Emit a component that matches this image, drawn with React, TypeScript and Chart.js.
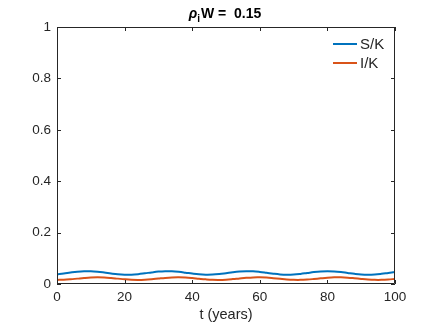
import React, { useEffect, useRef } from "react";
import { Chart, registerables } from "chart.js";

Chart.register(...registerables);

// ---- Data ----
const T = [
  0, 2, 4, 6, 8, 10, 12, 14, 16, 18, 20, 22, 24, 26, 28, 30, 32, 34, 36, 38, 40,
  42, 44, 46, 48, 50, 52, 54, 56, 58, 60, 62, 64, 66, 68, 70, 72, 74, 76, 78, 80,
  82, 84, 86, 88, 90, 92, 94, 96, 98, 100,
];
const S_K = [
  0.0379, 0.041, 0.0447, 0.0479, 0.0498, 0.0498, 0.0479, 0.0447, 0.041, 0.0379,
  0.0362, 0.0363, 0.0383, 0.0416, 0.0452, 0.0483, 0.0499, 0.0496, 0.0475, 0.0442,
  0.0405, 0.0375, 0.0361, 0.0365, 0.0387, 0.0421, 0.0458, 0.0486, 0.05, 0.0494,
  0.047, 0.0436, 0.04, 0.0372, 0.036, 0.0367, 0.0392, 0.0427, 0.0463, 0.0489,
  0.05, 0.0491, 0.0466, 0.043, 0.0395, 0.0369, 0.036, 0.037, 0.0397, 0.0432,
  0.0467,
];
const I_K = [
  0.016, 0.0166, 0.0184, 0.0209, 0.0234, 0.0253, 0.026, 0.0253, 0.0234, 0.0209,
  0.0184, 0.0166, 0.016, 0.0168, 0.0187, 0.0213, 0.0238, 0.0255, 0.026, 0.0251,
  0.0231, 0.0205, 0.0181, 0.0164, 0.016, 0.017, 0.0191, 0.0217, 0.0241, 0.0257,
  0.0259, 0.0249, 0.0227, 0.0201, 0.0177, 0.0163, 0.0161, 0.0173, 0.0195, 0.0221,
  0.0244, 0.0258, 0.0259, 0.0246, 0.0223, 0.0197, 0.0175, 0.0162, 0.0162, 0.0175,
  0.0199,
];
const SERIES_LABELS = ["S/K", "I/K"];
const SERIES_COLORS = ["#0072BD", "#D95319"];
const X_TICKS = [0, 20, 40, 60, 80, 100];
const Y_TICKS = [0, 0.2, 0.4, 0.6, 0.8, 1];
const TITLE_SYMBOL = "ρ";
const TITLE_SUB = "i";
const TITLE_REST = "W =  0.15";
const X_TITLE = "t (years)";

const FONT = "'Liberation Sans', Arial, Helvetica, sans-serif";
const AXIS_COLOR = "#262626";

const decorPlugin = {
  id: "matlabDecor",
  afterDraw(chart: any) {
    const { ctx, chartArea, scales } = chart;
    const { left, right, top, bottom } = chartArea;
    const xs = scales.x;
    const ys = scales.y;
    ctx.save();
    // box
    ctx.strokeStyle = AXIS_COLOR;
    ctx.lineWidth = 1;
    ctx.beginPath();
    ctx.rect(left + 0.5, top + 0.5, right - left - 1, bottom - top - 1);
    ctx.stroke();
    // inward ticks on all four sides
    const tl = 4;
    ctx.beginPath();
    X_TICKS.forEach((v) => {
      const px = Math.round(xs.getPixelForValue(v)) + 0.5;
      ctx.moveTo(px, bottom);
      ctx.lineTo(px, bottom - tl);
      ctx.moveTo(px, top);
      ctx.lineTo(px, top + tl);
    });
    Y_TICKS.forEach((v) => {
      const py = Math.round(ys.getPixelForValue(v)) + 0.5;
      ctx.moveTo(left, py);
      ctx.lineTo(left + tl, py);
      ctx.moveTo(right, py);
      ctx.lineTo(right - tl, py);
    });
    ctx.stroke();

    // title
    ctx.fillStyle = "#000";
    ctx.textBaseline = "alphabetic";
    ctx.textAlign = "left";
    const fSym = `italic bold 14px ${FONT}`;
    const fSub = `bold 10px ${FONT}`;
    const fRest = `bold 14px ${FONT}`;
    ctx.font = fSym;
    const wSym = ctx.measureText(TITLE_SYMBOL).width;
    ctx.font = fSub;
    const wSub = ctx.measureText(TITLE_SUB).width;
    ctx.font = fRest;
    const wRest = ctx.measureText(TITLE_REST).width;
    const total = wSym + wSub + wRest + 1;
    let tx = (left + right) / 2 - total / 2 - 1;
    const base = 18;
    ctx.font = fSym;
    ctx.fillText(TITLE_SYMBOL, tx, base);
    tx += wSym;
    ctx.font = fSub;
    ctx.fillText(TITLE_SUB, tx, base + 4);
    tx += wSub + 1;
    ctx.font = fRest;
    ctx.fillText(TITLE_REST, tx, base);

    // legend
    ctx.font = `15px ${FONT}`;
    ctx.textBaseline = "middle";
    ctx.fillStyle = AXIS_COLOR;
    chart.data.datasets.forEach((ds: any, i: number) => {
      const y = top + 17 + i * 19;
      ctx.strokeStyle = ds.borderColor;
      ctx.lineWidth = 2;
      ctx.beginPath();
      ctx.moveTo(right - 62, y);
      ctx.lineTo(right - 38, y);
      ctx.stroke();
      ctx.fillText(ds.label, right - 35, y + 0.5);
    });
    ctx.restore();
  },
};

export default function App() {
  const ref = useRef<HTMLCanvasElement>(null);
  useEffect(() => {
    if (!ref.current) return;
    const chart = new Chart(ref.current, {
      type: "line",
      data: {
        datasets: [
          {
            label: SERIES_LABELS[0],
            data: T.map((t, i) => ({ x: t, y: S_K[i] })),
            borderColor: SERIES_COLORS[0],
            borderWidth: 2,
            pointRadius: 0,
            tension: 0.4,
            fill: false,
          },
          {
            label: SERIES_LABELS[1],
            data: T.map((t, i) => ({ x: t, y: I_K[i] })),
            borderColor: SERIES_COLORS[1],
            borderWidth: 2,
            pointRadius: 0,
            tension: 0.4,
            fill: false,
          },
        ],
      },
      options: {
        animation: false,
        responsive: false,
        maintainAspectRatio: false,
        layout: { padding: { left: 0, right: 41, top: 27, bottom: 0 } },
        plugins: {
          legend: { display: false },
          title: { display: false },
          tooltip: { enabled: false },
        },
        scales: {
          x: {
            type: "linear",
            min: 0,
            max: 100,
            afterBuildTicks: (s: any) => {
              s.ticks = X_TICKS.map((v) => ({ value: v }));
            },
            afterFit: (s: any) => {
              s.height = 43;
            },
            grid: { display: false, drawTicks: false },
            border: { display: false },
            ticks: {
              padding: 5,
              color: AXIS_COLOR,
              font: { family: FONT, size: 13.5 },
              maxRotation: 0,
              callback: (v: any) => String(v),
            },
            title: {
              display: true,
              text: X_TITLE,
              color: AXIS_COLOR,
              font: { family: FONT, size: 14.5 },
              padding: { top: 0, bottom: 3 },
            },
          },
          y: {
            type: "linear",
            min: 0,
            max: 1,
            afterBuildTicks: (s: any) => {
              s.ticks = Y_TICKS.map((v) => ({ value: v }));
            },
            afterFit: (s: any) => {
              s.width = 57;
            },
            grid: { display: false, drawTicks: false },
            border: { display: false },
            ticks: {
              padding: 6,
              color: AXIS_COLOR,
              font: { family: FONT, size: 13.5 },
              callback: (v: any) => String(v),
            },
          },
        },
      },
      plugins: [decorPlugin],
    } as any);
    return () => chart.destroy();
  }, []);
  return (
    <div style={{ position: "fixed", left: 0, top: 0, width: 436, height: 327, background: "#fff" }}>
      <canvas ref={ref} width={436} height={327} style={{ display: "block" }} />
    </div>
  );
}
